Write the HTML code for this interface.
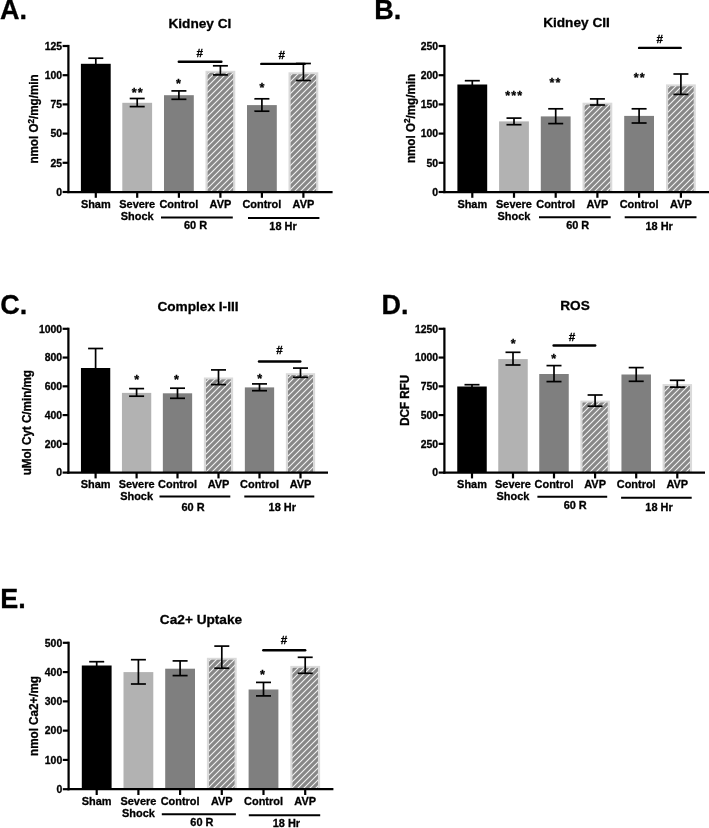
<!DOCTYPE html>
<html><head><meta charset="utf-8"><title>Figure</title>
<style>
html,body{margin:0;padding:0;background:#fff;}
body{width:709px;height:828px;overflow:hidden;}
svg{display:block;will-change:transform;filter:grayscale(1);}
svg text{font-family:"Liberation Sans",sans-serif;font-weight:bold;fill:#000;stroke:#000;stroke-width:0.3px;}
</style></head><body>
<svg width="709" height="828" viewBox="0 0 709 828">
<defs>
<pattern id="hatch" patternUnits="userSpaceOnUse" width="6" height="6">
<rect width="6" height="6" fill="#878787"/>
<path d="M-1.5,1.5 L1.5,-1.5 M0,6 L6,0 M4.5,7.5 L7.5,4.5" stroke="#f4f4f4" stroke-width="1.1"/>
</pattern>
</defs>
<rect width="709" height="828" fill="#fff"/>
<rect x="80.90" y="63.80" width="29.80" height="128.20" fill="#000"/>
<line x1="95.80" y1="58.20" x2="95.80" y2="70.00" stroke="#000" stroke-width="1.7" stroke-linecap="butt"/>
<line x1="88.30" y1="58.20" x2="103.30" y2="58.20" stroke="#000" stroke-width="1.7" stroke-linecap="butt"/>
<rect x="122.30" y="102.80" width="29.80" height="89.20" fill="#b2b2b2"/>
<line x1="137.20" y1="98.50" x2="137.20" y2="106.60" stroke="#000" stroke-width="1.7" stroke-linecap="butt"/>
<line x1="129.70" y1="98.50" x2="144.70" y2="98.50" stroke="#000" stroke-width="1.7" stroke-linecap="butt"/>
<line x1="129.70" y1="106.60" x2="144.70" y2="106.60" stroke="#000" stroke-width="1.7" stroke-linecap="butt"/>
<rect x="164.00" y="95.20" width="29.80" height="96.80" fill="#7f7f7f"/>
<line x1="178.90" y1="90.90" x2="178.90" y2="99.30" stroke="#000" stroke-width="1.7" stroke-linecap="butt"/>
<line x1="171.40" y1="90.90" x2="186.40" y2="90.90" stroke="#000" stroke-width="1.7" stroke-linecap="butt"/>
<line x1="171.40" y1="99.30" x2="186.40" y2="99.30" stroke="#000" stroke-width="1.7" stroke-linecap="butt"/>
<rect x="205.50" y="70.80" width="29.80" height="121.20" fill="#dadada"/>
<rect x="207.65" y="72.70" width="25.50" height="119.30" fill="url(#hatch)"/>
<line x1="220.40" y1="65.80" x2="220.40" y2="74.90" stroke="#000" stroke-width="1.7" stroke-linecap="butt"/>
<line x1="212.90" y1="65.80" x2="227.90" y2="65.80" stroke="#000" stroke-width="1.7" stroke-linecap="butt"/>
<line x1="212.90" y1="74.90" x2="227.90" y2="74.90" stroke="#000" stroke-width="1.7" stroke-linecap="butt"/>
<rect x="247.00" y="105.10" width="29.80" height="86.90" fill="#7f7f7f"/>
<line x1="261.90" y1="98.80" x2="261.90" y2="111.20" stroke="#000" stroke-width="1.7" stroke-linecap="butt"/>
<line x1="254.40" y1="98.80" x2="269.40" y2="98.80" stroke="#000" stroke-width="1.7" stroke-linecap="butt"/>
<line x1="254.40" y1="111.20" x2="269.40" y2="111.20" stroke="#000" stroke-width="1.7" stroke-linecap="butt"/>
<rect x="288.50" y="72.30" width="29.80" height="119.70" fill="#dadada"/>
<rect x="290.65" y="74.20" width="25.50" height="117.80" fill="url(#hatch)"/>
<line x1="303.40" y1="63.50" x2="303.40" y2="80.50" stroke="#000" stroke-width="1.7" stroke-linecap="butt"/>
<line x1="295.90" y1="63.50" x2="310.90" y2="63.50" stroke="#000" stroke-width="1.7" stroke-linecap="butt"/>
<line x1="295.90" y1="80.50" x2="310.90" y2="80.50" stroke="#000" stroke-width="1.7" stroke-linecap="butt"/>
<line x1="68.40" y1="44.90" x2="68.40" y2="193.10" stroke="#000" stroke-width="2.25" stroke-linecap="butt"/>
<line x1="67.30" y1="192.00" x2="332.60" y2="192.00" stroke="#000" stroke-width="2.25" stroke-linecap="butt"/>
<line x1="62.60" y1="46.00" x2="68.40" y2="46.00" stroke="#000" stroke-width="2.2" stroke-linecap="butt"/>
<text x="62.00" y="49.70" font-size="10.4" text-anchor="end" >125</text>
<line x1="62.60" y1="75.20" x2="68.40" y2="75.20" stroke="#000" stroke-width="2.2" stroke-linecap="butt"/>
<text x="62.00" y="78.90" font-size="10.4" text-anchor="end" >100</text>
<line x1="62.60" y1="104.40" x2="68.40" y2="104.40" stroke="#000" stroke-width="2.2" stroke-linecap="butt"/>
<text x="62.00" y="108.10" font-size="10.4" text-anchor="end" >75</text>
<line x1="62.60" y1="133.60" x2="68.40" y2="133.60" stroke="#000" stroke-width="2.2" stroke-linecap="butt"/>
<text x="62.00" y="137.30" font-size="10.4" text-anchor="end" >50</text>
<line x1="62.60" y1="162.80" x2="68.40" y2="162.80" stroke="#000" stroke-width="2.2" stroke-linecap="butt"/>
<text x="62.00" y="166.50" font-size="10.4" text-anchor="end" >25</text>
<line x1="62.60" y1="192.00" x2="68.40" y2="192.00" stroke="#000" stroke-width="2.2" stroke-linecap="butt"/>
<text x="62.00" y="195.70" font-size="10.4" text-anchor="end" >0</text>
<line x1="95.80" y1="192.00" x2="95.80" y2="197.80" stroke="#000" stroke-width="2.2" stroke-linecap="butt"/>
<line x1="137.20" y1="192.00" x2="137.20" y2="197.80" stroke="#000" stroke-width="2.2" stroke-linecap="butt"/>
<line x1="178.90" y1="192.00" x2="178.90" y2="197.80" stroke="#000" stroke-width="2.2" stroke-linecap="butt"/>
<line x1="220.40" y1="192.00" x2="220.40" y2="197.80" stroke="#000" stroke-width="2.2" stroke-linecap="butt"/>
<line x1="261.90" y1="192.00" x2="261.90" y2="197.80" stroke="#000" stroke-width="2.2" stroke-linecap="butt"/>
<line x1="303.40" y1="192.00" x2="303.40" y2="197.80" stroke="#000" stroke-width="2.2" stroke-linecap="butt"/>
<text x="95.80" y="207.80" font-size="10.95" text-anchor="middle" >Sham</text>
<text x="137.20" y="207.80" font-size="10.95" text-anchor="middle" >Severe</text>
<text x="178.90" y="207.80" font-size="10.95" text-anchor="middle" >Control</text>
<text x="220.40" y="207.80" font-size="10.95" text-anchor="middle" >AVP</text>
<text x="261.90" y="207.80" font-size="10.95" text-anchor="middle" >Control</text>
<text x="303.40" y="207.80" font-size="10.95" text-anchor="middle" >AVP</text>
<text x="137.20" y="219.60" font-size="10.95" text-anchor="middle" >Shock</text>
<line x1="161.00" y1="217.40" x2="232.80" y2="217.40" stroke="#000" stroke-width="2.0" stroke-linecap="butt"/>
<text x="195.50" y="229.30" font-size="10.95" text-anchor="middle" >60 R</text>
<line x1="248.00" y1="218.00" x2="319.40" y2="218.00" stroke="#000" stroke-width="2.0" stroke-linecap="butt"/>
<text x="283.00" y="229.90" font-size="10.95" text-anchor="middle" >18 Hr</text>
<text x="199.90" y="27.90" font-size="13.65" text-anchor="middle" >Kidney CI</text>
<text x="0.00" y="19.30" font-size="27.0" text-anchor="start" >A.</text>
<text transform="translate(38.00,119.00) rotate(-90) scale(1,1.07)" font-size="11.65" text-anchor="middle">nmol O<tspan font-size="8.2" dy="-3.9">2</tspan><tspan dy="3.9">/mg/min</tspan></text>
<line x1="178.80" y1="61.70" x2="221.40" y2="61.70" stroke="#000" stroke-width="2.4" stroke-linecap="round"/>
<text x="199.80" y="57.10" font-size="11.7" text-anchor="middle" font-weight="normal" stroke-width="0.15">#</text>
<line x1="261.30" y1="63.90" x2="304.60" y2="63.90" stroke="#000" stroke-width="2.4" stroke-linecap="round"/>
<text x="281.80" y="59.20" font-size="11.7" text-anchor="middle" font-weight="normal" stroke-width="0.15">#</text>
<text x="134.10" y="97.35" font-size="12.6" text-anchor="middle" font-weight="normal" stroke-width="0.2">*</text>
<text x="140.10" y="97.35" font-size="12.6" text-anchor="middle" font-weight="normal" stroke-width="0.2">*</text>
<text x="178.40" y="88.35" font-size="12.6" text-anchor="middle" font-weight="normal" stroke-width="0.2">*</text>
<text x="262.00" y="92.25" font-size="12.6" text-anchor="middle" font-weight="normal" stroke-width="0.2">*</text>
<rect x="457.40" y="84.50" width="29.80" height="107.50" fill="#000"/>
<line x1="472.30" y1="80.70" x2="472.30" y2="90.00" stroke="#000" stroke-width="1.7" stroke-linecap="butt"/>
<line x1="464.80" y1="80.70" x2="479.80" y2="80.70" stroke="#000" stroke-width="1.7" stroke-linecap="butt"/>
<rect x="499.10" y="121.40" width="29.80" height="70.60" fill="#b2b2b2"/>
<line x1="514.00" y1="118.10" x2="514.00" y2="124.70" stroke="#000" stroke-width="1.7" stroke-linecap="butt"/>
<line x1="506.50" y1="118.10" x2="521.50" y2="118.10" stroke="#000" stroke-width="1.7" stroke-linecap="butt"/>
<line x1="506.50" y1="124.70" x2="521.50" y2="124.70" stroke="#000" stroke-width="1.7" stroke-linecap="butt"/>
<rect x="540.80" y="116.40" width="29.80" height="75.60" fill="#7f7f7f"/>
<line x1="555.70" y1="108.80" x2="555.70" y2="123.60" stroke="#000" stroke-width="1.7" stroke-linecap="butt"/>
<line x1="548.20" y1="108.80" x2="563.20" y2="108.80" stroke="#000" stroke-width="1.7" stroke-linecap="butt"/>
<line x1="548.20" y1="123.60" x2="563.20" y2="123.60" stroke="#000" stroke-width="1.7" stroke-linecap="butt"/>
<rect x="582.50" y="102.70" width="29.80" height="89.30" fill="#dadada"/>
<rect x="584.65" y="104.60" width="25.50" height="87.40" fill="url(#hatch)"/>
<line x1="597.40" y1="98.90" x2="597.40" y2="105.00" stroke="#000" stroke-width="1.7" stroke-linecap="butt"/>
<line x1="589.90" y1="98.90" x2="604.90" y2="98.90" stroke="#000" stroke-width="1.7" stroke-linecap="butt"/>
<line x1="589.90" y1="105.00" x2="604.90" y2="105.00" stroke="#000" stroke-width="1.7" stroke-linecap="butt"/>
<rect x="624.20" y="115.90" width="29.80" height="76.10" fill="#7f7f7f"/>
<line x1="639.10" y1="108.80" x2="639.10" y2="123.00" stroke="#000" stroke-width="1.7" stroke-linecap="butt"/>
<line x1="631.60" y1="108.80" x2="646.60" y2="108.80" stroke="#000" stroke-width="1.7" stroke-linecap="butt"/>
<line x1="631.60" y1="123.00" x2="646.60" y2="123.00" stroke="#000" stroke-width="1.7" stroke-linecap="butt"/>
<rect x="666.00" y="84.40" width="29.80" height="107.60" fill="#dadada"/>
<rect x="668.15" y="86.30" width="25.50" height="105.70" fill="url(#hatch)"/>
<line x1="680.90" y1="74.00" x2="680.90" y2="94.40" stroke="#000" stroke-width="1.7" stroke-linecap="butt"/>
<line x1="673.40" y1="74.00" x2="688.40" y2="74.00" stroke="#000" stroke-width="1.7" stroke-linecap="butt"/>
<line x1="673.40" y1="94.40" x2="688.40" y2="94.40" stroke="#000" stroke-width="1.7" stroke-linecap="butt"/>
<line x1="444.40" y1="44.90" x2="444.40" y2="193.10" stroke="#000" stroke-width="2.25" stroke-linecap="butt"/>
<line x1="443.30" y1="192.00" x2="709.00" y2="192.00" stroke="#000" stroke-width="2.25" stroke-linecap="butt"/>
<line x1="438.60" y1="46.00" x2="444.40" y2="46.00" stroke="#000" stroke-width="2.2" stroke-linecap="butt"/>
<text x="438.00" y="49.70" font-size="10.4" text-anchor="end" >250</text>
<line x1="438.60" y1="75.20" x2="444.40" y2="75.20" stroke="#000" stroke-width="2.2" stroke-linecap="butt"/>
<text x="438.00" y="78.90" font-size="10.4" text-anchor="end" >200</text>
<line x1="438.60" y1="104.40" x2="444.40" y2="104.40" stroke="#000" stroke-width="2.2" stroke-linecap="butt"/>
<text x="438.00" y="108.10" font-size="10.4" text-anchor="end" >150</text>
<line x1="438.60" y1="133.60" x2="444.40" y2="133.60" stroke="#000" stroke-width="2.2" stroke-linecap="butt"/>
<text x="438.00" y="137.30" font-size="10.4" text-anchor="end" >100</text>
<line x1="438.60" y1="162.80" x2="444.40" y2="162.80" stroke="#000" stroke-width="2.2" stroke-linecap="butt"/>
<text x="438.00" y="166.50" font-size="10.4" text-anchor="end" >50</text>
<line x1="438.60" y1="192.00" x2="444.40" y2="192.00" stroke="#000" stroke-width="2.2" stroke-linecap="butt"/>
<text x="438.00" y="195.70" font-size="10.4" text-anchor="end" >0</text>
<line x1="472.30" y1="192.00" x2="472.30" y2="197.80" stroke="#000" stroke-width="2.2" stroke-linecap="butt"/>
<line x1="514.00" y1="192.00" x2="514.00" y2="197.80" stroke="#000" stroke-width="2.2" stroke-linecap="butt"/>
<line x1="555.70" y1="192.00" x2="555.70" y2="197.80" stroke="#000" stroke-width="2.2" stroke-linecap="butt"/>
<line x1="597.40" y1="192.00" x2="597.40" y2="197.80" stroke="#000" stroke-width="2.2" stroke-linecap="butt"/>
<line x1="639.10" y1="192.00" x2="639.10" y2="197.80" stroke="#000" stroke-width="2.2" stroke-linecap="butt"/>
<line x1="680.90" y1="192.00" x2="680.90" y2="197.80" stroke="#000" stroke-width="2.2" stroke-linecap="butt"/>
<text x="472.30" y="207.80" font-size="10.95" text-anchor="middle" >Sham</text>
<text x="514.00" y="207.80" font-size="10.95" text-anchor="middle" >Severe</text>
<text x="555.70" y="207.80" font-size="10.95" text-anchor="middle" >Control</text>
<text x="597.40" y="207.80" font-size="10.95" text-anchor="middle" >AVP</text>
<text x="639.10" y="207.80" font-size="10.95" text-anchor="middle" >Control</text>
<text x="680.90" y="207.80" font-size="10.95" text-anchor="middle" >AVP</text>
<text x="514.00" y="219.60" font-size="10.95" text-anchor="middle" >Shock</text>
<line x1="539.00" y1="217.30" x2="610.70" y2="217.30" stroke="#000" stroke-width="2.0" stroke-linecap="butt"/>
<text x="577.70" y="229.30" font-size="10.95" text-anchor="middle" >60 R</text>
<line x1="624.70" y1="217.30" x2="696.50" y2="217.30" stroke="#000" stroke-width="2.0" stroke-linecap="butt"/>
<text x="659.20" y="229.90" font-size="10.95" text-anchor="middle" >18 Hr</text>
<text x="576.50" y="27.20" font-size="13.65" text-anchor="middle" >Kidney CII</text>
<text x="374.20" y="19.00" font-size="27.0" text-anchor="start" >B.</text>
<text transform="translate(414.60,118.50) rotate(-90) scale(1,1.07)" font-size="11.65" text-anchor="middle">nmol O<tspan font-size="8.2" dy="-3.9">2</tspan><tspan dy="3.9">/mg/min</tspan></text>
<line x1="639.10" y1="47.90" x2="680.70" y2="47.90" stroke="#000" stroke-width="2.4" stroke-linecap="round"/>
<text x="659.70" y="42.60" font-size="11.7" text-anchor="middle" font-weight="normal" stroke-width="0.15">#</text>
<text x="507.70" y="99.75" font-size="12.6" text-anchor="middle" font-weight="normal" stroke-width="0.2">*</text>
<text x="513.70" y="99.75" font-size="12.6" text-anchor="middle" font-weight="normal" stroke-width="0.2">*</text>
<text x="519.70" y="99.75" font-size="12.6" text-anchor="middle" font-weight="normal" stroke-width="0.2">*</text>
<text x="551.90" y="86.85" font-size="12.6" text-anchor="middle" font-weight="normal" stroke-width="0.2">*</text>
<text x="557.90" y="86.85" font-size="12.6" text-anchor="middle" font-weight="normal" stroke-width="0.2">*</text>
<text x="636.10" y="82.15" font-size="12.6" text-anchor="middle" font-weight="normal" stroke-width="0.2">*</text>
<text x="642.10" y="82.15" font-size="12.6" text-anchor="middle" font-weight="normal" stroke-width="0.2">*</text>
<rect x="80.95" y="368.00" width="29.30" height="104.60" fill="#000"/>
<line x1="95.60" y1="348.50" x2="95.60" y2="375.00" stroke="#000" stroke-width="1.7" stroke-linecap="butt"/>
<line x1="88.10" y1="348.50" x2="103.10" y2="348.50" stroke="#000" stroke-width="1.7" stroke-linecap="butt"/>
<rect x="121.95" y="392.90" width="29.30" height="79.70" fill="#b2b2b2"/>
<line x1="136.60" y1="388.60" x2="136.60" y2="396.20" stroke="#000" stroke-width="1.7" stroke-linecap="butt"/>
<line x1="129.10" y1="388.60" x2="144.10" y2="388.60" stroke="#000" stroke-width="1.7" stroke-linecap="butt"/>
<line x1="129.10" y1="396.20" x2="144.10" y2="396.20" stroke="#000" stroke-width="1.7" stroke-linecap="butt"/>
<rect x="162.85" y="393.30" width="29.30" height="79.30" fill="#7f7f7f"/>
<line x1="177.50" y1="388.20" x2="177.50" y2="398.30" stroke="#000" stroke-width="1.7" stroke-linecap="butt"/>
<line x1="170.00" y1="388.20" x2="185.00" y2="388.20" stroke="#000" stroke-width="1.7" stroke-linecap="butt"/>
<line x1="170.00" y1="398.30" x2="185.00" y2="398.30" stroke="#000" stroke-width="1.7" stroke-linecap="butt"/>
<rect x="203.85" y="377.50" width="29.30" height="95.10" fill="#dadada"/>
<rect x="206.00" y="379.40" width="25.00" height="93.20" fill="url(#hatch)"/>
<line x1="218.50" y1="369.90" x2="218.50" y2="384.60" stroke="#000" stroke-width="1.7" stroke-linecap="butt"/>
<line x1="211.00" y1="369.90" x2="226.00" y2="369.90" stroke="#000" stroke-width="1.7" stroke-linecap="butt"/>
<line x1="211.00" y1="384.60" x2="226.00" y2="384.60" stroke="#000" stroke-width="1.7" stroke-linecap="butt"/>
<rect x="244.85" y="387.40" width="29.30" height="85.20" fill="#7f7f7f"/>
<line x1="259.50" y1="383.90" x2="259.50" y2="390.70" stroke="#000" stroke-width="1.7" stroke-linecap="butt"/>
<line x1="252.00" y1="383.90" x2="267.00" y2="383.90" stroke="#000" stroke-width="1.7" stroke-linecap="butt"/>
<line x1="252.00" y1="390.70" x2="267.00" y2="390.70" stroke="#000" stroke-width="1.7" stroke-linecap="butt"/>
<rect x="285.85" y="373.20" width="29.30" height="99.40" fill="#dadada"/>
<rect x="288.00" y="375.10" width="25.00" height="97.50" fill="url(#hatch)"/>
<line x1="300.50" y1="368.10" x2="300.50" y2="377.30" stroke="#000" stroke-width="1.7" stroke-linecap="butt"/>
<line x1="293.00" y1="368.10" x2="308.00" y2="368.10" stroke="#000" stroke-width="1.7" stroke-linecap="butt"/>
<line x1="293.00" y1="377.30" x2="308.00" y2="377.30" stroke="#000" stroke-width="1.7" stroke-linecap="butt"/>
<line x1="68.40" y1="327.70" x2="68.40" y2="473.70" stroke="#000" stroke-width="2.25" stroke-linecap="butt"/>
<line x1="67.30" y1="472.60" x2="328.00" y2="472.60" stroke="#000" stroke-width="2.25" stroke-linecap="butt"/>
<line x1="62.60" y1="328.80" x2="68.40" y2="328.80" stroke="#000" stroke-width="2.2" stroke-linecap="butt"/>
<text x="62.00" y="332.50" font-size="10.4" text-anchor="end" >1000</text>
<line x1="62.60" y1="357.56" x2="68.40" y2="357.56" stroke="#000" stroke-width="2.2" stroke-linecap="butt"/>
<text x="62.00" y="361.26" font-size="10.4" text-anchor="end" >800</text>
<line x1="62.60" y1="386.32" x2="68.40" y2="386.32" stroke="#000" stroke-width="2.2" stroke-linecap="butt"/>
<text x="62.00" y="390.02" font-size="10.4" text-anchor="end" >600</text>
<line x1="62.60" y1="415.08" x2="68.40" y2="415.08" stroke="#000" stroke-width="2.2" stroke-linecap="butt"/>
<text x="62.00" y="418.78" font-size="10.4" text-anchor="end" >400</text>
<line x1="62.60" y1="443.84" x2="68.40" y2="443.84" stroke="#000" stroke-width="2.2" stroke-linecap="butt"/>
<text x="62.00" y="447.54" font-size="10.4" text-anchor="end" >200</text>
<line x1="62.60" y1="472.60" x2="68.40" y2="472.60" stroke="#000" stroke-width="2.2" stroke-linecap="butt"/>
<text x="62.00" y="476.30" font-size="10.4" text-anchor="end" >0</text>
<line x1="95.60" y1="472.60" x2="95.60" y2="478.40" stroke="#000" stroke-width="2.2" stroke-linecap="butt"/>
<line x1="136.60" y1="472.60" x2="136.60" y2="478.40" stroke="#000" stroke-width="2.2" stroke-linecap="butt"/>
<line x1="177.50" y1="472.60" x2="177.50" y2="478.40" stroke="#000" stroke-width="2.2" stroke-linecap="butt"/>
<line x1="218.50" y1="472.60" x2="218.50" y2="478.40" stroke="#000" stroke-width="2.2" stroke-linecap="butt"/>
<line x1="259.50" y1="472.60" x2="259.50" y2="478.40" stroke="#000" stroke-width="2.2" stroke-linecap="butt"/>
<line x1="300.50" y1="472.60" x2="300.50" y2="478.40" stroke="#000" stroke-width="2.2" stroke-linecap="butt"/>
<text x="95.60" y="488.10" font-size="10.95" text-anchor="middle" >Sham</text>
<text x="136.60" y="488.10" font-size="10.95" text-anchor="middle" >Severe</text>
<text x="177.50" y="488.10" font-size="10.95" text-anchor="middle" >Control</text>
<text x="218.50" y="488.10" font-size="10.95" text-anchor="middle" >AVP</text>
<text x="259.50" y="488.10" font-size="10.95" text-anchor="middle" >Control</text>
<text x="300.50" y="488.10" font-size="10.95" text-anchor="middle" >AVP</text>
<text x="136.60" y="499.90" font-size="10.95" text-anchor="middle" >Shock</text>
<line x1="159.50" y1="496.50" x2="230.30" y2="496.50" stroke="#000" stroke-width="2.0" stroke-linecap="butt"/>
<text x="193.00" y="510.60" font-size="10.95" text-anchor="middle" >60 R</text>
<line x1="244.30" y1="496.50" x2="314.30" y2="496.50" stroke="#000" stroke-width="2.0" stroke-linecap="butt"/>
<text x="282.30" y="510.60" font-size="10.95" text-anchor="middle" >18 Hr</text>
<text x="198.00" y="311.00" font-size="13.65" text-anchor="middle" >Complex I-III</text>
<text x="0.20" y="313.60" font-size="27.0" text-anchor="start" >C.</text>
<text transform="translate(31.20,422.70) rotate(-90) scale(1,1.07)" font-size="11.65" text-anchor="middle">uMol Cyt C/min/mg</text>
<line x1="259.00" y1="361.50" x2="300.30" y2="361.50" stroke="#000" stroke-width="2.4" stroke-linecap="round"/>
<text x="279.50" y="354.10" font-size="11.7" text-anchor="middle" font-weight="normal" stroke-width="0.15">#</text>
<text x="136.70" y="383.75" font-size="12.6" text-anchor="middle" font-weight="normal" stroke-width="0.2">*</text>
<text x="176.40" y="383.75" font-size="12.6" text-anchor="middle" font-weight="normal" stroke-width="0.2">*</text>
<text x="259.60" y="383.05" font-size="12.6" text-anchor="middle" font-weight="normal" stroke-width="0.2">*</text>
<rect x="457.25" y="386.50" width="29.50" height="86.10" fill="#000"/>
<line x1="472.00" y1="384.70" x2="472.00" y2="390.00" stroke="#000" stroke-width="1.7" stroke-linecap="butt"/>
<line x1="464.50" y1="384.70" x2="479.50" y2="384.70" stroke="#000" stroke-width="1.7" stroke-linecap="butt"/>
<rect x="498.25" y="359.10" width="29.50" height="113.50" fill="#b2b2b2"/>
<line x1="513.00" y1="352.30" x2="513.00" y2="365.00" stroke="#000" stroke-width="1.7" stroke-linecap="butt"/>
<line x1="505.50" y1="352.30" x2="520.50" y2="352.30" stroke="#000" stroke-width="1.7" stroke-linecap="butt"/>
<line x1="505.50" y1="365.00" x2="520.50" y2="365.00" stroke="#000" stroke-width="1.7" stroke-linecap="butt"/>
<rect x="539.25" y="374.00" width="29.50" height="98.60" fill="#7f7f7f"/>
<line x1="554.00" y1="365.60" x2="554.00" y2="381.60" stroke="#000" stroke-width="1.7" stroke-linecap="butt"/>
<line x1="546.50" y1="365.60" x2="561.50" y2="365.60" stroke="#000" stroke-width="1.7" stroke-linecap="butt"/>
<line x1="546.50" y1="381.60" x2="561.50" y2="381.60" stroke="#000" stroke-width="1.7" stroke-linecap="butt"/>
<rect x="580.35" y="400.60" width="29.50" height="72.00" fill="#dadada"/>
<rect x="582.50" y="402.50" width="25.20" height="70.10" fill="url(#hatch)"/>
<line x1="595.10" y1="395.00" x2="595.10" y2="406.20" stroke="#000" stroke-width="1.7" stroke-linecap="butt"/>
<line x1="587.60" y1="395.00" x2="602.60" y2="395.00" stroke="#000" stroke-width="1.7" stroke-linecap="butt"/>
<line x1="587.60" y1="406.20" x2="602.60" y2="406.20" stroke="#000" stroke-width="1.7" stroke-linecap="butt"/>
<rect x="621.45" y="374.50" width="29.50" height="98.10" fill="#7f7f7f"/>
<line x1="636.20" y1="367.60" x2="636.20" y2="381.30" stroke="#000" stroke-width="1.7" stroke-linecap="butt"/>
<line x1="628.70" y1="367.60" x2="643.70" y2="367.60" stroke="#000" stroke-width="1.7" stroke-linecap="butt"/>
<line x1="628.70" y1="381.30" x2="643.70" y2="381.30" stroke="#000" stroke-width="1.7" stroke-linecap="butt"/>
<rect x="662.55" y="384.10" width="29.50" height="88.50" fill="#dadada"/>
<rect x="664.70" y="386.00" width="25.20" height="86.60" fill="url(#hatch)"/>
<line x1="677.30" y1="380.30" x2="677.30" y2="387.20" stroke="#000" stroke-width="1.7" stroke-linecap="butt"/>
<line x1="669.80" y1="380.30" x2="684.80" y2="380.30" stroke="#000" stroke-width="1.7" stroke-linecap="butt"/>
<line x1="669.80" y1="387.20" x2="684.80" y2="387.20" stroke="#000" stroke-width="1.7" stroke-linecap="butt"/>
<line x1="444.40" y1="327.70" x2="444.40" y2="473.70" stroke="#000" stroke-width="2.25" stroke-linecap="butt"/>
<line x1="443.30" y1="472.60" x2="705.00" y2="472.60" stroke="#000" stroke-width="2.25" stroke-linecap="butt"/>
<line x1="438.60" y1="328.80" x2="444.40" y2="328.80" stroke="#000" stroke-width="2.2" stroke-linecap="butt"/>
<text x="438.00" y="332.50" font-size="10.4" text-anchor="end" >1250</text>
<line x1="438.60" y1="357.56" x2="444.40" y2="357.56" stroke="#000" stroke-width="2.2" stroke-linecap="butt"/>
<text x="438.00" y="361.26" font-size="10.4" text-anchor="end" >1000</text>
<line x1="438.60" y1="386.32" x2="444.40" y2="386.32" stroke="#000" stroke-width="2.2" stroke-linecap="butt"/>
<text x="438.00" y="390.02" font-size="10.4" text-anchor="end" >750</text>
<line x1="438.60" y1="415.08" x2="444.40" y2="415.08" stroke="#000" stroke-width="2.2" stroke-linecap="butt"/>
<text x="438.00" y="418.78" font-size="10.4" text-anchor="end" >500</text>
<line x1="438.60" y1="443.84" x2="444.40" y2="443.84" stroke="#000" stroke-width="2.2" stroke-linecap="butt"/>
<text x="438.00" y="447.54" font-size="10.4" text-anchor="end" >250</text>
<line x1="438.60" y1="472.60" x2="444.40" y2="472.60" stroke="#000" stroke-width="2.2" stroke-linecap="butt"/>
<text x="438.00" y="476.30" font-size="10.4" text-anchor="end" >0</text>
<line x1="472.00" y1="472.60" x2="472.00" y2="478.40" stroke="#000" stroke-width="2.2" stroke-linecap="butt"/>
<line x1="513.00" y1="472.60" x2="513.00" y2="478.40" stroke="#000" stroke-width="2.2" stroke-linecap="butt"/>
<line x1="554.00" y1="472.60" x2="554.00" y2="478.40" stroke="#000" stroke-width="2.2" stroke-linecap="butt"/>
<line x1="595.10" y1="472.60" x2="595.10" y2="478.40" stroke="#000" stroke-width="2.2" stroke-linecap="butt"/>
<line x1="636.20" y1="472.60" x2="636.20" y2="478.40" stroke="#000" stroke-width="2.2" stroke-linecap="butt"/>
<line x1="677.30" y1="472.60" x2="677.30" y2="478.40" stroke="#000" stroke-width="2.2" stroke-linecap="butt"/>
<text x="472.00" y="488.10" font-size="10.95" text-anchor="middle" >Sham</text>
<text x="513.00" y="488.10" font-size="10.95" text-anchor="middle" >Severe</text>
<text x="554.00" y="488.10" font-size="10.95" text-anchor="middle" >Control</text>
<text x="595.10" y="488.10" font-size="10.95" text-anchor="middle" >AVP</text>
<text x="636.20" y="488.10" font-size="10.95" text-anchor="middle" >Control</text>
<text x="677.30" y="488.10" font-size="10.95" text-anchor="middle" >AVP</text>
<text x="513.00" y="499.90" font-size="10.95" text-anchor="middle" >Shock</text>
<line x1="537.40" y1="496.70" x2="607.20" y2="496.70" stroke="#000" stroke-width="2.0" stroke-linecap="butt"/>
<text x="575.20" y="508.90" font-size="10.95" text-anchor="middle" >60 R</text>
<line x1="621.10" y1="497.80" x2="691.70" y2="497.80" stroke="#000" stroke-width="2.0" stroke-linecap="butt"/>
<text x="659.00" y="510.60" font-size="10.95" text-anchor="middle" >18 Hr</text>
<text x="575.00" y="310.40" font-size="13.65" text-anchor="middle" >ROS</text>
<text x="381.60" y="313.80" font-size="27.0" text-anchor="start" >D.</text>
<text transform="translate(409.10,400.30) rotate(-90) scale(1,1.07)" font-size="11.65" text-anchor="middle">DCF RFU</text>
<line x1="553.60" y1="345.50" x2="595.20" y2="345.50" stroke="#000" stroke-width="2.4" stroke-linecap="round"/>
<text x="572.10" y="340.90" font-size="11.7" text-anchor="middle" font-weight="normal" stroke-width="0.15">#</text>
<text x="513.10" y="347.95" font-size="12.6" text-anchor="middle" font-weight="normal" stroke-width="0.2">*</text>
<text x="553.60" y="362.65" font-size="12.6" text-anchor="middle" font-weight="normal" stroke-width="0.2">*</text>
<rect x="81.80" y="665.50" width="29.80" height="123.70" fill="#000"/>
<line x1="96.70" y1="661.70" x2="96.70" y2="670.00" stroke="#000" stroke-width="1.7" stroke-linecap="butt"/>
<line x1="89.20" y1="661.70" x2="104.20" y2="661.70" stroke="#000" stroke-width="1.7" stroke-linecap="butt"/>
<rect x="123.50" y="672.10" width="29.80" height="117.10" fill="#b2b2b2"/>
<line x1="138.40" y1="659.70" x2="138.40" y2="684.00" stroke="#000" stroke-width="1.7" stroke-linecap="butt"/>
<line x1="130.90" y1="659.70" x2="145.90" y2="659.70" stroke="#000" stroke-width="1.7" stroke-linecap="butt"/>
<line x1="130.90" y1="684.00" x2="145.90" y2="684.00" stroke="#000" stroke-width="1.7" stroke-linecap="butt"/>
<rect x="165.20" y="668.70" width="29.80" height="120.50" fill="#7f7f7f"/>
<line x1="180.10" y1="660.90" x2="180.10" y2="675.60" stroke="#000" stroke-width="1.7" stroke-linecap="butt"/>
<line x1="172.60" y1="660.90" x2="187.60" y2="660.90" stroke="#000" stroke-width="1.7" stroke-linecap="butt"/>
<line x1="172.60" y1="675.60" x2="187.60" y2="675.60" stroke="#000" stroke-width="1.7" stroke-linecap="butt"/>
<rect x="206.90" y="657.80" width="29.80" height="131.40" fill="#dadada"/>
<rect x="209.05" y="659.70" width="25.50" height="129.50" fill="url(#hatch)"/>
<line x1="221.80" y1="646.10" x2="221.80" y2="668.20" stroke="#000" stroke-width="1.7" stroke-linecap="butt"/>
<line x1="214.30" y1="646.10" x2="229.30" y2="646.10" stroke="#000" stroke-width="1.7" stroke-linecap="butt"/>
<line x1="214.30" y1="668.20" x2="229.30" y2="668.20" stroke="#000" stroke-width="1.7" stroke-linecap="butt"/>
<rect x="248.60" y="689.50" width="29.80" height="99.70" fill="#7f7f7f"/>
<line x1="263.50" y1="682.40" x2="263.50" y2="695.90" stroke="#000" stroke-width="1.7" stroke-linecap="butt"/>
<line x1="256.00" y1="682.40" x2="271.00" y2="682.40" stroke="#000" stroke-width="1.7" stroke-linecap="butt"/>
<line x1="256.00" y1="695.90" x2="271.00" y2="695.90" stroke="#000" stroke-width="1.7" stroke-linecap="butt"/>
<rect x="290.30" y="665.90" width="29.80" height="123.30" fill="#dadada"/>
<rect x="292.45" y="667.80" width="25.50" height="121.40" fill="url(#hatch)"/>
<line x1="305.20" y1="657.30" x2="305.20" y2="673.30" stroke="#000" stroke-width="1.7" stroke-linecap="butt"/>
<line x1="297.70" y1="657.30" x2="312.70" y2="657.30" stroke="#000" stroke-width="1.7" stroke-linecap="butt"/>
<line x1="297.70" y1="673.30" x2="312.70" y2="673.30" stroke="#000" stroke-width="1.7" stroke-linecap="butt"/>
<line x1="68.60" y1="641.70" x2="68.60" y2="790.30" stroke="#000" stroke-width="2.25" stroke-linecap="butt"/>
<line x1="67.50" y1="789.20" x2="333.40" y2="789.20" stroke="#000" stroke-width="2.25" stroke-linecap="butt"/>
<line x1="62.80" y1="642.80" x2="68.60" y2="642.80" stroke="#000" stroke-width="2.2" stroke-linecap="butt"/>
<text x="62.20" y="646.50" font-size="10.4" text-anchor="end" >500</text>
<line x1="62.80" y1="672.08" x2="68.60" y2="672.08" stroke="#000" stroke-width="2.2" stroke-linecap="butt"/>
<text x="62.20" y="675.78" font-size="10.4" text-anchor="end" >400</text>
<line x1="62.80" y1="701.36" x2="68.60" y2="701.36" stroke="#000" stroke-width="2.2" stroke-linecap="butt"/>
<text x="62.20" y="705.06" font-size="10.4" text-anchor="end" >300</text>
<line x1="62.80" y1="730.64" x2="68.60" y2="730.64" stroke="#000" stroke-width="2.2" stroke-linecap="butt"/>
<text x="62.20" y="734.34" font-size="10.4" text-anchor="end" >200</text>
<line x1="62.80" y1="759.92" x2="68.60" y2="759.92" stroke="#000" stroke-width="2.2" stroke-linecap="butt"/>
<text x="62.20" y="763.62" font-size="10.4" text-anchor="end" >100</text>
<line x1="62.80" y1="789.20" x2="68.60" y2="789.20" stroke="#000" stroke-width="2.2" stroke-linecap="butt"/>
<text x="62.20" y="792.90" font-size="10.4" text-anchor="end" >0</text>
<line x1="96.70" y1="789.20" x2="96.70" y2="795.00" stroke="#000" stroke-width="2.2" stroke-linecap="butt"/>
<line x1="138.40" y1="789.20" x2="138.40" y2="795.00" stroke="#000" stroke-width="2.2" stroke-linecap="butt"/>
<line x1="180.10" y1="789.20" x2="180.10" y2="795.00" stroke="#000" stroke-width="2.2" stroke-linecap="butt"/>
<line x1="221.80" y1="789.20" x2="221.80" y2="795.00" stroke="#000" stroke-width="2.2" stroke-linecap="butt"/>
<line x1="263.50" y1="789.20" x2="263.50" y2="795.00" stroke="#000" stroke-width="2.2" stroke-linecap="butt"/>
<line x1="305.20" y1="789.20" x2="305.20" y2="795.00" stroke="#000" stroke-width="2.2" stroke-linecap="butt"/>
<text x="96.70" y="805.30" font-size="10.95" text-anchor="middle" >Sham</text>
<text x="138.40" y="805.30" font-size="10.95" text-anchor="middle" >Severe</text>
<text x="180.10" y="805.30" font-size="10.95" text-anchor="middle" >Control</text>
<text x="221.80" y="805.30" font-size="10.95" text-anchor="middle" >AVP</text>
<text x="263.50" y="805.30" font-size="10.95" text-anchor="middle" >Control</text>
<text x="305.20" y="805.30" font-size="10.95" text-anchor="middle" >AVP</text>
<text x="138.40" y="817.10" font-size="10.95" text-anchor="middle" >Shock</text>
<line x1="161.80" y1="814.20" x2="235.90" y2="814.20" stroke="#000" stroke-width="2.0" stroke-linecap="butt"/>
<text x="201.90" y="825.60" font-size="10.95" text-anchor="middle" >60 R</text>
<line x1="248.80" y1="815.20" x2="320.20" y2="815.20" stroke="#000" stroke-width="2.0" stroke-linecap="butt"/>
<text x="286.40" y="827.40" font-size="10.95" text-anchor="middle" >18 Hr</text>
<text x="201.00" y="624.00" font-size="13.65" text-anchor="middle" >Ca2+ Uptake</text>
<text x="0.30" y="607.80" font-size="27.0" text-anchor="start" >E.</text>
<text transform="translate(38.00,716.00) rotate(-90) scale(1,1.07)" font-size="11.65" text-anchor="middle">nmol Ca2+/mg</text>
<line x1="263.30" y1="650.20" x2="305.20" y2="650.20" stroke="#000" stroke-width="2.4" stroke-linecap="round"/>
<text x="284.10" y="644.10" font-size="11.7" text-anchor="middle" font-weight="normal" stroke-width="0.15">#</text>
<text x="262.40" y="678.85" font-size="12.6" text-anchor="middle" font-weight="normal" stroke-width="0.2">*</text>
</svg>
</body></html>
